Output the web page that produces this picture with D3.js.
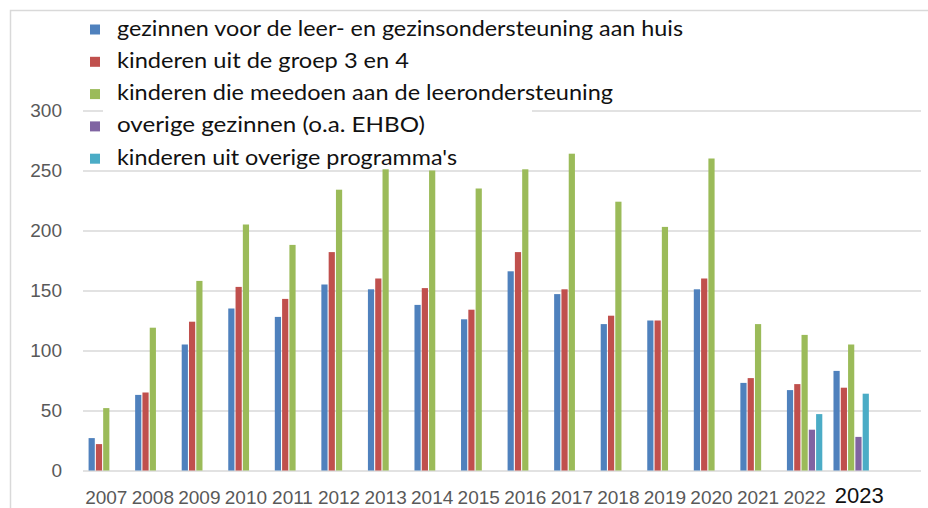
<!DOCTYPE html>
<html><head><meta charset="utf-8">
<script src="https://cdn.jsdelivr.net/npm/d3@7/dist/d3.min.js"></script>
<style>body{margin:0;background:#fff}svg{display:block}</style>
</head><body>
<svg id="chart" width="928" height="508"></svg>
<script>
const years = ["2007","2008","2009","2010","2011","2012","2013","2014","2015","2016","2017","2018","2019","2020","2021","2022","2023"];
const seriesNames = [
  "gezinnen voor de leer- en gezinsondersteuning aan huis",
  "kinderen uit de groep 3 en 4",
  "kinderen die meedoen aan de leerondersteuning",
  "overige gezinnen (o.a. EHBO)",
  "kinderen uit overige programma's"
];
const gezinnenLeer = [27,63,105,135,128,155,151,138,126,166,147,122,125,151,73,67,83];
const groep34 = [22,65,124,153,143,182,160,152,134,182,151,129,125,160,77,72,69];
const leerondersteuning = [52,119,158,205,188,234,251,250,235,251,264,224,203,260,122,113,105];
const overigeGezinnen = [null,null,null,null,null,null,null,null,null,null,null,null,null,null,null,34,28];
const overigeProgrammas = [null,null,null,null,null,null,null,null,null,null,null,null,null,null,null,47,64];
const yTicks = [0,50,100,150,200,250,300];
const colors = ["#4F81BD","#C0504D","#9BBB59","#8064A2","#4BACC6"];
const legendWidths = [566,292,496,308,340];

const series = [gezinnenLeer, groep34, leerondersteuning, overigeGezinnen, overigeProgrammas];

const svg = d3.select("#chart");
const mLeft = 83, mRight = 921, mTop = 110.5, mBottom = 470.5;
const step = (mRight - mLeft) / 18;

// frame
svg.append("path").attr("d", `M10.5,508 V10.5 H928`).attr("fill","none").attr("stroke","#d9d9d9").attr("stroke-width",1.5);

const y = d3.scaleLinear().domain([0,300]).range([mBottom, mTop]);
const x0 = d3.scaleBand().domain(years).range([mLeft, mLeft + 17*step]).paddingInner(0.24).paddingOuter(0.12);
const x1 = d3.scaleBand().domain(d3.range(5)).range([0, x0.bandwidth()]).paddingInner(0.15);

// gridlines + y labels
const yAxis = svg.append("g").attr("transform", `translate(${mLeft},0)`)
  .call(d3.axisLeft(y).tickValues(yTicks).tickSize(-(mRight-mLeft)).tickPadding(21));
yAxis.select(".domain").remove();
yAxis.selectAll(".tick line").attr("stroke","#d9d9d9").attr("stroke-width",1.5);
yAxis.selectAll(".tick text").attr("fill","#595959").style("font-family","'Liberation Sans', Arial, sans-serif").style("font-size","19px");

// bars
series.forEach((vals, si) => {
  svg.append("g").selectAll("rect")
    .data(years.map((yr,i)=>({yr, v: vals[i]})).filter(d => d.v != null))
    .join("rect")
    .attr("x", d => x0(d.yr) + x1(si))
    .attr("y", d => y(d.v))
    .attr("width", x1.bandwidth())
    .attr("height", d => y(0) - y(d.v))
    .attr("fill", colors[si]);
});

// x labels
const xg = svg.append("g");
xg.selectAll("text").data(years).join("text")
  .attr("x", d => x0(d) + x0.bandwidth()/2 + (d === "2023" ? 8 : 0))
  .attr("y", d => d === "2023" ? 503 : 504)
  .attr("text-anchor","middle")
  .attr("fill", d => d === "2023" ? "#111" : "#595959")
  .style("font-family","'Liberation Sans', Arial, sans-serif")
  .style("font-size", d => d === "2023" ? "22px" : "19px")
  .text(d => d);

// legend
svg.append("rect").attr("x",103).attr("y",14).attr("width",429).attr("height",153).attr("fill","#fff");
const lg = svg.append("g");
seriesNames.forEach((name, i) => {
  const base = 35.5 + i*32.3;
  lg.append("rect").attr("x",90).attr("y",base-11).attr("width",10).attr("height",10).attr("fill",colors[i]);
  lg.append("text").attr("x",117).attr("y",base)
    .attr("textLength", legendWidths[i]).attr("lengthAdjust","spacingAndGlyphs")
    .attr("fill","#111")
    .style("font-family","Lato, 'Noto Sans', sans-serif").style("font-size","21px")
    .text(name);
});
</script>
</body></html>
